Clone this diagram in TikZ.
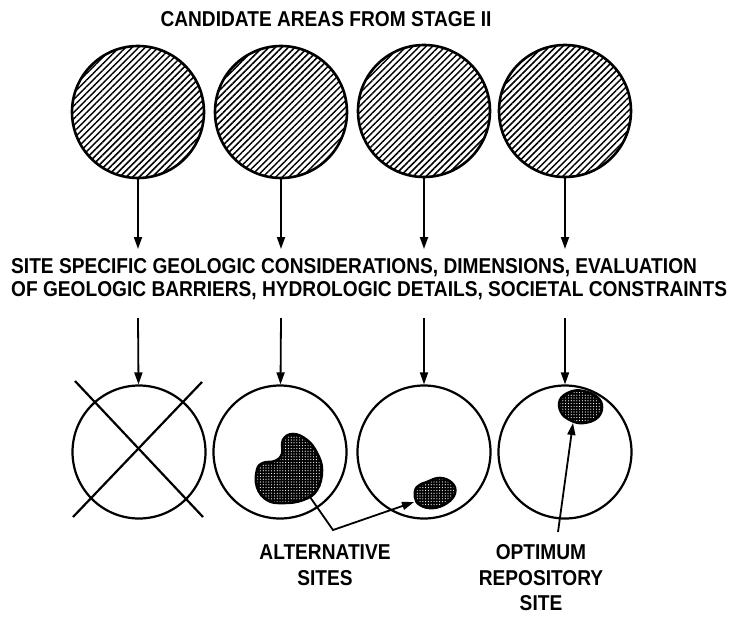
\documentclass[tikz,border=0pt]{standalone}
\usepackage{fontspec}
\setmainfont{Liberation Sans}[FakeStretch=0.89]
\usetikzlibrary{arrows.meta,patterns.meta}

\begin{document}
\begin{tikzpicture}[
  x=1pt,y=-1pt,
  area/.style={draw, circle, line width=2.6pt, minimum size=132pt, inner sep=0pt, pattern={Lines[angle=45,distance=4.6pt,line width=1.5pt]}},
  site/.style={draw, circle, line width=2.2pt, minimum size=133pt, inner sep=0pt},
  blob/.style={draw, line width=2.6pt, preaction={fill=black}, preaction={pattern={Dots[distance=2.8pt,radius=0.6pt]}, pattern color=white}},
  lbl/.style={font=\bfseries\fontsize{21.5}{25.5}\selectfont, align=center, inner sep=0pt},
  arr/.style={-{Triangle[length=12pt,width=8pt]}, line width=1.8pt}
]
\useasboundingbox (0,0) rectangle (734,622);
\node[lbl] (title) at (326,19) {CANDIDATE AREAS FROM STAGE II};
\node[area] (t1) at (138,112) {};
\node[area] (t2) at (281,112) {};
\node[area] (t3) at (424,111) {};
\node[area] (t4) at (565,111) {};
\node[lbl, anchor=west, align=left, font=\bfseries\fontsize{21.5}{23}\selectfont] (mid) at (11,279) {SITE SPECIFIC GEOLOGIC CONSIDERATIONS, DIMENSIONS, EVALUATION\\OF GEOLOGIC BARRIERS, HYDROLOGIC DETAILS, SOCIETAL CONSTRAINTS};
\node[site] (b1) at (139,452) {};
\node[site] (b2) at (280,452) {};
\node[site] (b3) at (424,452) {};
\node[site] (b4) at (565,452) {};
\foreach \i/\x in {1/138,2/281,3/424,4/565}{
  \coordinate (u\i) at (\x,249);
  \coordinate (d\i) at (\x,318);
  \draw[arr] (t\i) -- (u\i);
  \draw[arr] (d\i) -- (b\i);
}
% rejected area
\draw[line width=2.2pt] (75,381) -- (203,517);
\draw[line width=2.2pt] (202,382) -- (73,517);
% sites
\draw[blob] plot[smooth cycle, tension=0.7] coordinates {(283,440) (293,434) (307,440) (317,453) (322,470) (317,490) (303,500) (283,503) (267,500) (257,487) (257,470) (263,463) (275,461) (282,454)};
\draw[blob] plot[smooth cycle, tension=0.7] coordinates {(417,487) (427,482) (440,478) (452,483) (455,493) (447,503) (433,508) (420,505) (415,497)};
\draw[blob] plot[smooth cycle, tension=0.7] coordinates {(560,400) (570,392) (583,391) (597,397) (602,407) (597,418) (583,423) (570,420) (561,412)};
\coordinate (k1) at (310,497);
\coordinate (k2) at (333,530);
\coordinate (k3) at (414,502);
\draw[arr] (k1) -- (k2) -- (k3);
\coordinate (o1) at (558,532);
\coordinate (o2) at (573,423);
\draw[arr] (o1) -- (o2);
\node[lbl] (alt) at (325,565) {ALTERNATIVE\\SITES};
\node[lbl] (opt) at (541,578) {OPTIMUM\\REPOSITORY\\SITE};
\end{tikzpicture}
\end{document}
